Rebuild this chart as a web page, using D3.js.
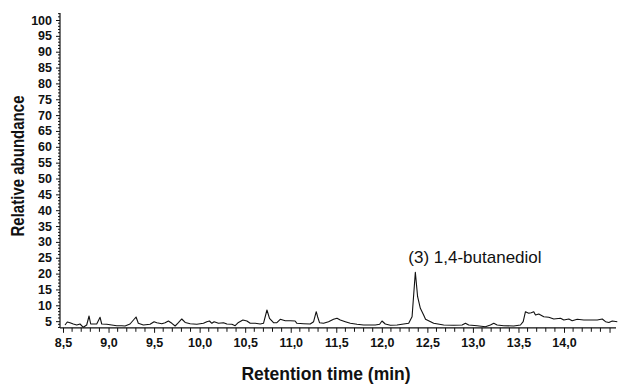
<!DOCTYPE html>
<html>
<head>
<meta charset="utf-8">
<script src="https://cdn.jsdelivr.net/npm/d3@7"></script>
<style>
  html, body { margin: 0; padding: 0; background: #fff; }
  svg { display: block; }
</style>
</head>
<body>
<svg id="chart" width="618" height="391"></svg>
<script>
// ---- data ----
const retentionTimes = [
  8.522, 8.547, 8.577, 8.613, 8.651, 8.687, 8.723, 8.760, 8.786, 8.804,
  8.870, 8.907, 8.925, 8.980, 9.035, 9.090, 9.145, 9.181, 9.236, 9.302,
  9.327, 9.382, 9.456, 9.500, 9.530, 9.585, 9.621, 9.657, 9.695, 9.731,
  9.767, 9.804, 9.841, 9.896, 9.969, 10.042, 10.079, 10.108, 10.134, 10.159,
  10.207, 10.262, 10.299, 10.354, 10.390, 10.426, 10.475, 10.519, 10.555, 10.610,
  10.665, 10.701, 10.739, 10.767, 10.811, 10.848, 10.885, 10.940, 10.995, 11.048,
  11.068, 11.141, 11.214, 11.251, 11.280, 11.295, 11.316, 11.360, 11.415, 11.470,
  11.508, 11.544, 11.599, 11.654, 11.727, 11.800, 11.874, 11.929, 11.976, 12.002,
  12.038, 12.093, 12.167, 12.240, 12.295, 12.332, 12.368, 12.393, 12.423, 12.459,
  12.480, 12.569, 12.679, 12.789, 12.881, 12.918, 12.954, 13.046, 13.137, 13.192,
  13.229, 13.266, 13.338, 13.448, 13.522, 13.552, 13.577, 13.613, 13.640, 13.668,
  13.687, 13.723, 13.778, 13.833, 13.888, 13.962, 13.998, 14.053, 14.090, 14.145,
  14.218, 14.291, 14.365, 14.420, 14.456, 14.492, 14.530, 14.585
];
const abundance = [
  3.79, 4.73, 4.51, 4.10, 3.79, 4.10, 3.06, 3.79, 6.62, 4.10,
  4.10, 6.21, 4.10, 4.01, 3.79, 3.57, 3.57, 3.47, 4.10, 6.31,
  4.32, 3.79, 4.01, 4.83, 4.51, 4.20, 4.51, 5.05, 4.32, 3.47,
  4.51, 5.68, 4.60, 4.20, 4.01, 4.32, 4.83, 5.05, 4.32, 4.83,
  4.32, 4.51, 4.10, 4.01, 3.57, 4.60, 5.36, 5.05, 4.32, 4.32,
  4.10, 4.32, 8.52, 5.90, 4.51, 4.51, 5.58, 5.14, 5.14, 5.05,
  4.32, 4.20, 4.10, 4.83, 7.98, 6.40, 4.51, 4.32, 4.83, 5.58,
  5.90, 5.36, 4.83, 4.32, 4.01, 3.79, 3.79, 3.79, 4.01, 5.05,
  4.10, 3.69, 3.79, 4.10, 4.32, 6.40, 20.41, 12.71, 9.05, 6.94,
  5.60, 4.32, 3.79, 3.69, 3.79, 4.32, 3.79, 3.57, 3.25, 3.79,
  4.32, 3.79, 3.57, 3.47, 3.79, 4.83, 7.98, 7.48, 7.67, 7.98,
  6.94, 7.25, 6.40, 6.21, 5.68, 5.90, 5.36, 5.68, 5.14, 5.58,
  5.36, 5.36, 5.36, 5.68, 4.83, 4.60, 5.05, 4.83
];
const xTickValues = [8.5, 9.0, 9.5, 10.0, 10.5, 11.0, 11.5, 12.0, 12.5, 13.0, 13.5, 14.0, 14.5];
const xTickLabels = ["8,5", "9,0", "9,5", "10,0", "10,5", "11,0", "11,5", "12,0", "12,5", "13,0", "13,5", "14,0", ""];
const yTickValues = [5, 10, 15, 20, 25, 30, 35, 40, 45, 50, 55, 60, 65, 70, 75, 80, 85, 90, 95, 100];
const peakLabel = "(3) 1,4-butanediol";
const peakTime = 12.368;
const xTitle = "Retention time (min)";
const yTitle = "Relative abundance";

// ---- layout ----
const svg = d3.select("#chart");
const x = d3.scaleLinear().domain([8.5, 14.0]).range([63, 564]);
const y = d3.scaleLinear().domain([0, 100]).range([337, 20]);
const xMin = x.invert(60), xMax = x.invert(616);
const yMin = 2.9, yMax = 102.2;
const x0 = x(xMin), y0 = y(yMin);

const fontBold = "'Liberation Sans', Arial, sans-serif";

// minor ticks
const xMinor = d3.range(85, 146).map(d => d / 10).filter(d => d >= xMin && d <= xMax && !xTickValues.includes(d));
const yMinor = d3.range(3, 103).filter(d => d % 5 !== 0 && d <= yMax);

// x axis
const xAxisG = svg.append("g").attr("transform", `translate(0,${y0})`);
xAxisG.call(d3.axisBottom(x).tickValues(xTickValues).tickSize(5).tickSizeOuter(0)
  .tickFormat((d, i) => xTickLabels[i]));
xAxisG.select(".domain").remove();
xAxisG.selectAll(".tick text")
  .attr("font-family", fontBold).attr("font-weight", "bold").attr("font-size", "12.5px")
  .attr("fill", "#111").attr("dy", null).attr("y", 19);
xAxisG.selectAll(".tick line").attr("stroke", "#111");
xAxisG.selectAll(".minor").data(xMinor).enter().append("line")
  .attr("x1", d => x(d)).attr("x2", d => x(d)).attr("y1", 0).attr("y2", 4)
  .attr("stroke", "#111").attr("stroke-width", 1);

// y axis
const yAxisG = svg.append("g").attr("transform", `translate(${x0},0)`);
yAxisG.call(d3.axisLeft(y).tickValues(yTickValues).tickSize(4).tickSizeOuter(0)
  .tickFormat(d3.format("d")));
yAxisG.select(".domain").remove();
yAxisG.selectAll(".tick text")
  .attr("font-family", fontBold).attr("font-weight", "bold").attr("font-size", "12.5px")
  .attr("fill", "#111").attr("x", -8);
yAxisG.selectAll(".tick line").attr("stroke", "#111");
yAxisG.selectAll(".minor").data(yMinor).enter().append("line")
  .attr("x1", -2).attr("x2", 0).attr("y1", d => y(d)).attr("y2", d => y(d))
  .attr("stroke", "#111").attr("stroke-width", 1);

// axis lines
svg.append("line").attr("x1", x0).attr("x2", x(xMax)).attr("y1", y0).attr("y2", y0)
  .attr("stroke", "#111").attr("stroke-width", 1.2);
svg.append("line").attr("x1", x0).attr("x2", x0).attr("y1", y0).attr("y2", y(yMax))
  .attr("stroke", "#111").attr("stroke-width", 1.2);

// trace
const pts = retentionTimes.map((t, i) => [t, abundance[i]]);
svg.append("path").datum(pts)
  .attr("fill", "none").attr("stroke", "#111").attr("stroke-width", 1.1)
  .attr("stroke-linejoin", "round")
  .attr("d", d3.line().x(d => x(d[0])).y(d => y(d[1])));

// annotation
svg.append("text").attr("x", x(peakTime) - 7).attr("y", 263)
  .attr("font-family", fontBold).attr("font-size", "17px").attr("fill", "#111")
  .text(peakLabel);

// titles
svg.append("text").attr("x", 326).attr("y", 380).attr("text-anchor", "middle")
  .attr("font-family", fontBold).attr("font-weight", "bold").attr("font-size", "17.5px")
  .attr("fill", "#111").text(xTitle);
svg.append("text").attr("transform", "translate(24,166) rotate(-90)").attr("text-anchor", "middle")
  .attr("font-family", fontBold).attr("font-weight", "bold").attr("font-size", "17.5px")
  .attr("textLength", 141).attr("lengthAdjust", "spacingAndGlyphs")
  .attr("fill", "#111").text(yTitle);
</script>
</body>
</html>
